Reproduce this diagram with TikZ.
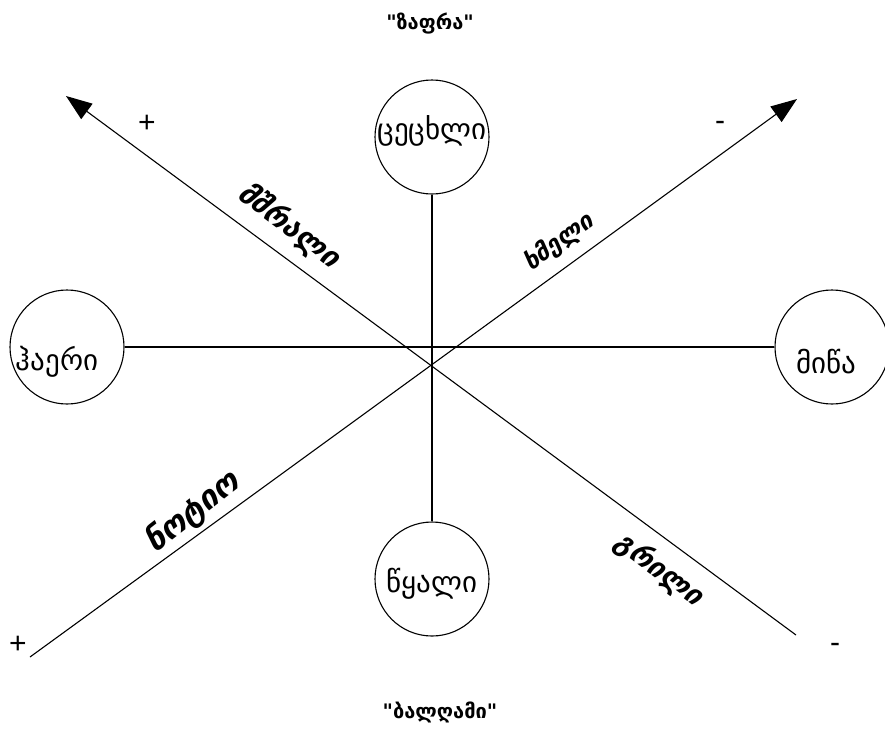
\documentclass[tikz,border=0pt]{standalone}
\usepackage{fontspec}
\setmainfont{Liberation Sans}
\newfontfamily\geo{DejaVu Sans}
\usetikzlibrary{arrows.meta}
\tikzset{
  elem/.style={draw, circle, line width=1.1pt, minimum size=114pt, inner sep=0pt},
  elemtxt/.style={font=\geo\fontsize{29pt}{32pt}\selectfont, inner sep=0pt},
  diaglbl/.style={font=\geo\bfseries\itshape\fontsize{#1}{32pt}\selectfont, inner sep=0pt},
  titlelbl/.style={font=\geo\bfseries\fontsize{20pt}{24pt}\selectfont, inner sep=0pt},
  sign/.style={font=\fontsize{30pt}{32pt}\selectfont, inner sep=0pt},
  conn/.style={line width=1.1pt},
  arr/.style={line width=1.1pt, -{Triangle[length=26pt,width=19pt]}}
}
\begin{document}
\begin{tikzpicture}[x=1pt,y=-1pt]
\useasboundingbox (0,0) rectangle (885,729);
% circles
\node[elem] (fire) at (432,137) {};
\node[elem] (air) at (67,347) {};
\node[elem] (earth) at (832,347) {};
\node[elem] (water) at (432,579) {};
\node[elemtxt] (firet) at (432,131) {ცეცხლი};
\node[elemtxt] (airt) at (57,362) {ჰაერი};
\node[elemtxt] (eartht) at (826,362) {მიწა};
\node[elemtxt] (watert) at (432,584) {წყალი};
% axes
\draw[conn] (air.east) -- (earth.west);
\draw[conn] (fire.south) -- (water.north);
\coordinate (bl) at (30,657);
\coordinate (tr) at (797,99);
\coordinate (br) at (796,635);
\coordinate (tl) at (66,96);
\draw[arr] (bl) -- (tr);
\draw[arr] (br) -- (tl);
% diagonal labels
\node[diaglbl=29pt, rotate=-37] (dry1) at (289,226) {მშრალი};
\node[diaglbl=24pt, rotate=36] (dry2) at (559,242) {ხმელი};
\node[diaglbl=32pt, rotate=38] (moist) at (193,512) {ნოტიო};
\node[diaglbl=28pt, rotate=-37] (cool) at (659,570) {გრილი};
% signs
\node[sign] (p1) at (147,124) {+};
\node[sign] (m1) at (720,126) {-};
\node[sign] (p2) at (18,645) {+};
\node[sign] (m2) at (835,648) {-};
% titles
\node[titlelbl] (top) at (430,24) {"ზაფრა"};
\node[titlelbl] (bot) at (440,712) {"ბალღამი"};
\end{tikzpicture}
\end{document}
